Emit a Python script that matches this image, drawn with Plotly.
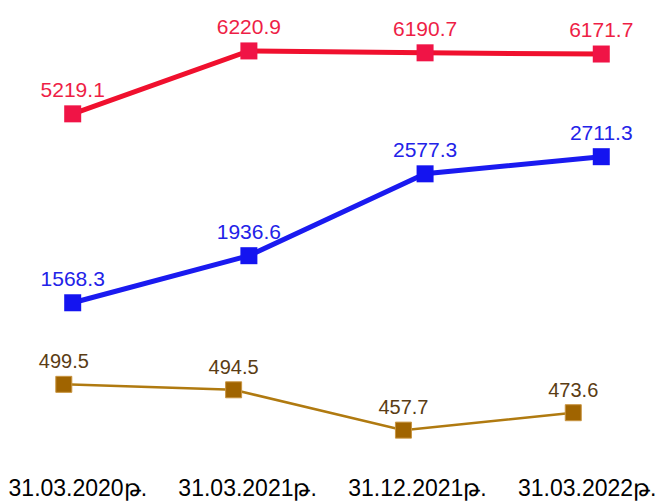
import plotly.graph_objects as go

categories = ["31.03.2020թ.", "31.03.2021թ.", "31.12.2021թ.", "31.03.2022թ."]
red_values = [5219.1, 6220.9, 6190.7, 6171.7]
blue_values = [1568.3, 1936.6, 2577.3, 2711.3]
brown_values = [499.5, 494.5, 457.7, 473.6]

idx = list(range(len(categories)))

def fmt(vals):
    return [f"{v:.1f}" for v in vals]

FONT = "Liberation Sans, Arial, sans-serif"

fig = go.Figure()

fig.add_trace(go.Scatter(
    x=idx, y=red_values, xaxis="x", yaxis="y",
    mode="lines+markers+text", text=fmt(red_values), textposition="top center",
    textfont=dict(family=FONT, size=21, color="#ee1e46"),
    line=dict(color="#f0102e", width=5),
    marker=dict(symbol="square", size=17, color="#f01446"),
    cliponaxis=False, showlegend=False, hoverinfo="skip",
))
fig.add_trace(go.Scatter(
    x=idx, y=blue_values, xaxis="x", yaxis="y2",
    mode="lines+markers+text", text=fmt(blue_values), textposition="top center",
    textfont=dict(family=FONT, size=21, color="#2222e8"),
    line=dict(color="#1a1af0", width=5),
    marker=dict(symbol="square", size=17, color="#1414f0"),
    cliponaxis=False, showlegend=False, hoverinfo="skip",
))
fig.add_trace(go.Scatter(
    x=idx, y=brown_values, xaxis="x2", yaxis="y3",
    mode="lines+markers+text", text=fmt(brown_values), textposition="top center",
    textfont=dict(family=FONT, size=20, color="#5a3c14"),
    line=dict(color="#b07a10", width=2.5),
    marker=dict(symbol="square", size=16, color="#a06400", line=dict(color="#c89440", width=1)),
    cliponaxis=False, showlegend=False, hoverinfo="skip",
))

fig.update_layout(
    width=658, height=502,
    margin=dict(l=0, r=0, t=0, b=30),
    paper_bgcolor="white", plot_bgcolor="white",
    font=dict(family=FONT),
    xaxis=dict(range=[-0.4126, 3.322], anchor="y", showticklabels=False,
               showgrid=False, zeroline=False, showline=False, ticks=""),
    yaxis=dict(range=[-484, 7031.8], anchor="x", visible=False),
    yaxis2=dict(range=[244.1, 3937.4], anchor="x", overlaying="y", visible=False),
    xaxis2=dict(range=[-0.3757, 3.499], anchor="y", overlaying="x", side="bottom",
                tickvals=idx, ticktext=categories, ticklabelshift=14,
                showgrid=False, zeroline=False, showline=False, ticks="",
                tickfont=dict(family=FONT, size=23, color="black")),
    yaxis3=dict(range=[419.5, 850.2], anchor="x2", overlaying="y", visible=False),
)

fig.write_html("out.html", config={"displayModeBar": False},
               post_script="document.body.style.margin='0';")
